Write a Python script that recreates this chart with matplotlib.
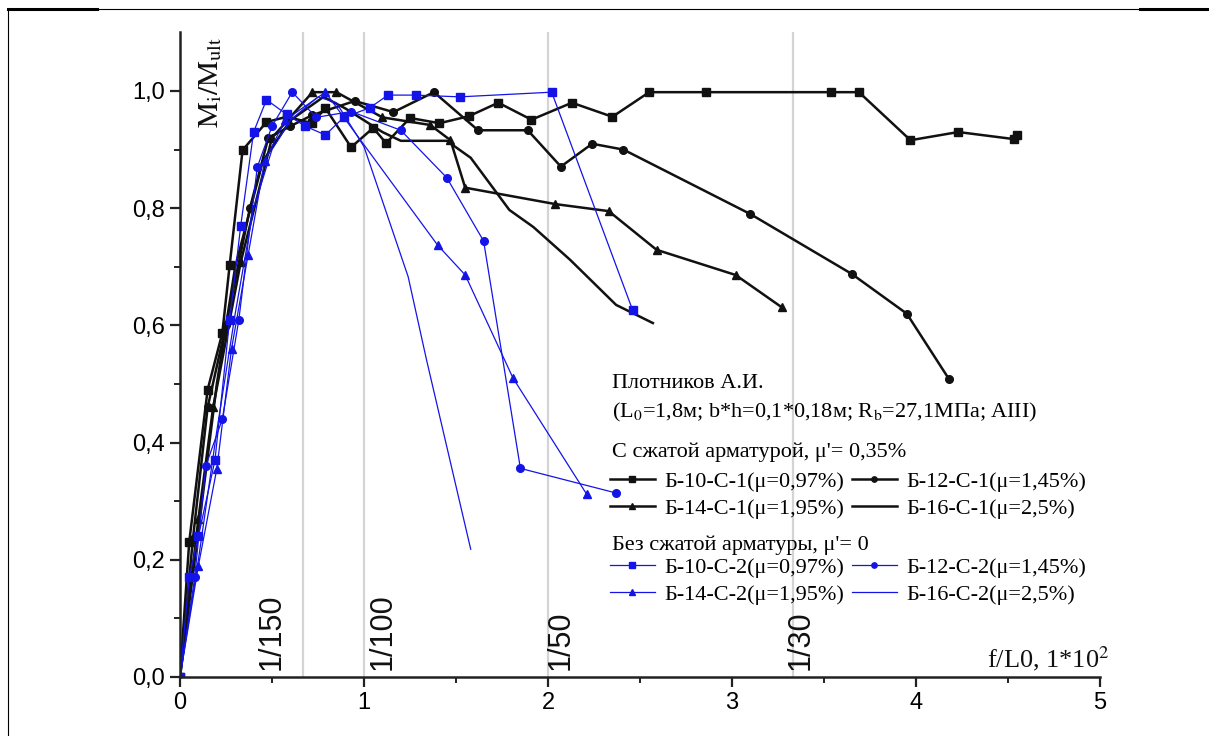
import matplotlib
matplotlib.use("Agg")
import matplotlib.pyplot as plt
from matplotlib.lines import Line2D

# ---------------- data ----------------
b10c1_x = [0, 0.05, 0.15, 0.23, 0.27, 0.34, 0.47, 0.58, 0.72, 0.79, 0.93, 1.05, 1.12, 1.25, 1.41, 1.57,
           1.73, 1.91, 2.13, 2.35, 2.55, 2.86, 3.54, 3.69, 3.97, 4.23, 4.53, 4.55]
b10c1_y = [0, 0.23, 0.49, 0.587, 0.703, 0.899, 0.947, 0.956, 0.945, 0.971, 0.904, 0.937, 0.911, 0.954, 0.945,
           0.957, 0.98, 0.951, 0.98, 0.956, 0.998, 0.998, 0.998, 0.998, 0.916, 0.93, 0.918, 0.925]

b12c1_x = [0, 0.07, 0.15, 0.25, 0.38, 0.48, 0.6, 0.72, 0.95, 1.16, 1.38, 1.62, 1.89, 2.07, 2.24, 2.41,
           3.10, 3.65, 3.95, 4.18]
b12c1_y = [0, 0.235, 0.46, 0.60, 0.80, 0.92, 0.94, 0.959, 0.983, 0.964, 0.998, 0.933, 0.933, 0.871, 0.91,
           0.90, 0.79, 0.688, 0.62, 0.508]

b14c1_x = [0, 0.1, 0.18, 0.33, 0.5, 0.72, 0.85, 1.1, 1.36, 1.47, 1.55, 2.04, 2.33, 2.59, 3.02, 3.27]
b14c1_y = [0, 0.27, 0.46, 0.708, 0.92, 0.998, 0.998, 0.955, 0.942, 0.916, 0.835, 0.807, 0.795, 0.729,
           0.686, 0.631]

b16c1_x = [0, 0.1, 0.2, 0.3, 0.45, 0.6, 0.78, 0.9, 1.1, 1.2, 1.45, 1.58, 1.79, 1.92, 2.12, 2.37, 2.57]
b16c1_y = [0, 0.25, 0.5, 0.7, 0.88, 0.95, 0.99, 0.97, 0.93, 0.915, 0.915, 0.886, 0.797, 0.768, 0.712,
           0.635, 0.604]

b10c2_x = [0, 0.05, 0.1, 0.19, 0.27, 0.33, 0.4, 0.47, 0.58, 0.68, 0.79, 0.89, 1.03, 1.13, 1.28, 1.52,
           2.02, 2.46]
b10c2_y = [0, 0.17, 0.24, 0.37, 0.61, 0.77, 0.93, 0.985, 0.96, 0.94, 0.925, 0.955, 0.971, 0.993, 0.993,
           0.99, 0.998, 0.626]

b12c2_x = [0, 0.08, 0.14, 0.23, 0.32, 0.42, 0.5, 0.61, 0.74, 0.93, 1.2, 1.45, 1.65, 1.85, 2.37]
b12c2_y = [0, 0.17, 0.36, 0.44, 0.61, 0.87, 0.94, 0.998, 0.955, 0.965, 0.933, 0.852, 0.744, 0.356, 0.314]

b14c2_x = [0, 0.1, 0.2, 0.28, 0.37, 0.46, 0.57, 0.79, 1.40, 1.55, 1.81, 2.21]
b14c2_y = [0, 0.19, 0.355, 0.56, 0.72, 0.88, 0.95, 0.998, 0.737, 0.686, 0.51, 0.312]

b16c2_x = [0, 0.1, 0.2, 0.3, 0.4, 0.5, 0.6, 0.75, 0.85, 1.0, 1.24, 1.34, 1.58]
b16c2_y = [0, 0.2, 0.42, 0.62, 0.8, 0.9, 0.95, 0.99, 0.98, 0.905, 0.683, 0.541, 0.218]

labels_c1 = ["Б-10-С-1(μ=0,97%)", "Б-12-С-1(μ=1,45%)", "Б-14-С-1(μ=1,95%)", "Б-16-С-1(μ=2,5%)"]
labels_c2 = ["Б-10-С-2(μ=0,97%)", "Б-12-С-2(μ=1,45%)", "Б-14-С-2(μ=1,95%)", "Б-16-С-2(μ=2,5%)"]

ref_x = [2 / 3, 1.0, 2.0, 10 / 3]
ref_labels = ["1/150", "1/100", "1/50", "1/30"]

x_ticks = [0, 1, 2, 3, 4, 5]
y_ticks = [0.0, 0.2, 0.4, 0.6, 0.8, 1.0]
y_ticklabels = ["0,0", "0,2", "0,4", "0,6", "0,8", "1,0"]

# ---------------- style ----------------
plt.rcParams['mathtext.fontset'] = 'stix'
SERIF = ['Liberation Serif', 'DejaVu Serif']
SANS = ['Liberation Sans', 'DejaVu Sans']

fig = plt.figure(figsize=(12.09, 7.36), dpi=100)
ax = fig.add_axes([180 / 1209, 1 - 677 / 736, 920 / 1209, (677 - 32.4) / 736])

# reference lines
for xv in ref_x:
    ax.axvline(xv, color='#d4d4d4', lw=1.6, zorder=0)

BLACK = '#111111'
BLUE = '#1414e8'
kb = dict(color=BLACK, lw=1.8, ms=5.5)
kc = dict(color=BLUE, lw=0.9, ms=5.5)

h1 = ax.plot(b10c1_x, b10c1_y, marker='s', **kb)[0]
h2 = ax.plot(b12c1_x, b12c1_y, marker='o', **kb)[0]
h3 = ax.plot(b14c1_x, b14c1_y, marker='^', **kb)[0]
h4 = ax.plot(b16c1_x, b16c1_y, **kb)[0]
g1 = ax.plot(b10c2_x, b10c2_y, marker='s', **kc)[0]
g2 = ax.plot(b12c2_x, b12c2_y, marker='o', **kc)[0]
g3 = ax.plot(b14c2_x, b14c2_y, marker='^', **kc)[0]
g4 = ax.plot(b16c2_x, b16c2_y, **kc)[0]

ax.set_xlim(0, 5)
ax.set_ylim(0, 1.1)
ax.set_xticks(x_ticks)
ax.set_xticklabels([str(v) for v in x_ticks], family=SANS, fontsize=17)
ax.set_xticks([0.5, 1.5, 2.5, 3.5, 4.5], minor=True)
ax.set_yticks(y_ticks)
ax.set_yticklabels(y_ticklabels, family=SANS, fontsize=17)
ax.set_yticks([0.1, 0.3, 0.5, 0.7, 0.9], minor=True)
ax.tick_params(which='major', direction='out', length=7, width=1.6, color='#222222', pad=4)
ax.tick_params(which='minor', direction='out', length=4.5, width=1.4, color='#222222')
for s in ['top', 'right']:
    ax.spines[s].set_visible(False)
for s in ['left', 'bottom']:
    ax.spines[s].set_linewidth(1.8)
    ax.spines[s].set_color('#222222')

# rotated reference labels
ref_offsets = [-0.17, 0.1, 0.07, 0.04]
for xv, lab, off in zip(ref_x, ref_labels, ref_offsets):
    ax.text(xv + off, 0.012, lab, rotation=90, ha='center', va='bottom',
            family=SANS, fontsize=22, color='#111111')

# axis labels
ax.text(0.165, 1.015, r'$\mathrm{M_i/M_{ult}}$', rotation=90, ha='center', va='center',
        fontsize=21, color='#111111')
ax.text(5.05, 0.032, r'f/L0, 1*10$^{2}$', ha='right', va='center', family=SERIF,
        fontsize=19, color='#111111')

# legend block
tx = (612 - 180) / 920
def fy(py):
    return (677 - py) / 644.6

FS = 16
ax.text(tx, fy(383), "Плотников А.И.", transform=ax.transAxes, family=SERIF, fontsize=FS,
        va='center', ha='left')
ax.text(tx, fy(412), r"(L$_0$=1,8м; b*h=0,1*0,18м; R$_\mathrm{b}$=27,1МПа; AIII)",
        transform=ax.transAxes, family=SERIF, fontsize=FS, va='center', ha='left')
ax.text(tx, fy(452), "С сжатой арматурой, μ'= 0,35%", transform=ax.transAxes, family=SERIF,
        fontsize=FS, va='center', ha='left')
ax.text(tx, fy(545), "Без сжатой арматуры, μ'= 0", transform=ax.transAxes, family=SERIF,
        fontsize=FS, va='center', ha='left')

legprops = dict(family=SERIF, size=FS)
common = dict(ncol=2, loc='upper left', frameon=False, prop=legprops,
              handlelength=2.0, handletextpad=0.45, columnspacing=0.35, labelspacing=0.3,
              borderpad=0, borderaxespad=0, markerscale=0.7)
leg1 = ax.legend([h1, h3, h2, h4], [labels_c1[0], labels_c1[2], labels_c1[1], labels_c1[3]],
                 bbox_to_anchor=(tx - 0.002, fy(471)), **common)
ax.add_artist(leg1)
leg2 = ax.legend([g1, g3, g2, g4], [labels_c2[0], labels_c2[2], labels_c2[1], labels_c2[3]],
                 bbox_to_anchor=(tx - 0.002, fy(557)), **common)

# page frame lines
fig.add_artist(Line2D([8 / 1209, 1209 / 1209], [1 - 9 / 736] * 2, color='black', lw=0.8))
fig.add_artist(Line2D([8 / 1209, 97 / 1209], [1 - 9 / 736] * 2, color='black', lw=2.2))
fig.add_artist(Line2D([1140 / 1209, 1209 / 1209], [1 - 9 / 736] * 2, color='black', lw=2.2))
fig.add_artist(Line2D([8 / 1209, 8 / 1209], [0, 1 - 9 / 736], color='black', lw=0.8))

fig.savefig("out.png", dpi=100)
